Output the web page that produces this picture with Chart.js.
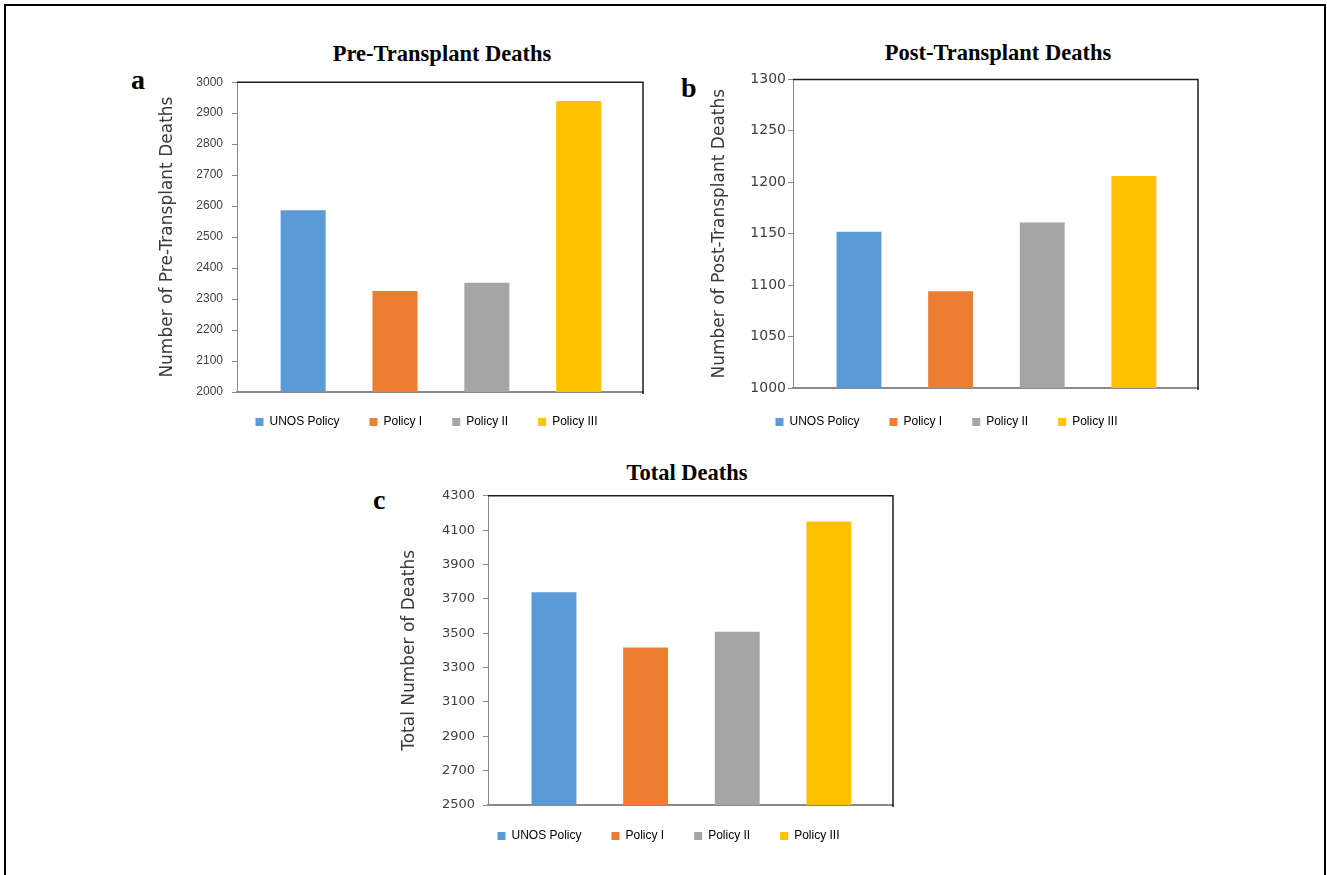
<!DOCTYPE html>
<html>
<head>
<meta charset="utf-8">
<script src="https://cdn.jsdelivr.net/npm/chart.js@4.4.1/dist/chart.umd.min.js"></script>
<style>
html, body { margin: 0; padding: 0; background: #fff; }
#page { position: relative; width: 1327px; height: 875px; overflow: hidden; background: #fff; }
#frame { position: absolute; left: 4px; top: 4px; width: 1318px; height: 900px;
  border-top: 2px solid #000; border-left: 2px solid #000; border-right: 2px solid #000; }
canvas { position: absolute; }
.ttl { position: absolute; width: 400px; text-align: center; white-space: nowrap;
  font-family: "Liberation Serif", "Times New Roman", serif; font-weight: bold;
  font-size: 22.5px; line-height: 22.5px; color: #000; }
.pnl { position: absolute; font-family: "Liberation Serif", "Times New Roman", serif;
  font-weight: bold; font-size: 28px; line-height: 28px; color: #000; }
</style>
</head>
<body>
<div id="page">
  <div id="frame"></div>
  <div class="ttl" style="left:242px; top:43px;">Pre-Transplant Deaths</div>
  <div class="ttl" style="left:798px; top:42px;">Post-Transplant Deaths</div>
  <div class="ttl" style="left:487px; top:462px;">Total Deaths</div>
  <div class="pnl" style="left:131px; top:66px;">a</div>
  <div class="pnl" style="left:681px; top:74px;">b</div>
  <div class="pnl" style="left:373px; top:486px;">c</div>
  <canvas id="chartA" width="553" height="378" style="left:150px; top:66px;"></canvas>
  <canvas id="chartB" width="507" height="371" style="left:693px; top:69px;"></canvas>
  <canvas id="chartC" width="557" height="377" style="left:390px; top:480px;"></canvas>
</div>
<script>
// ---- data ----
const categories = ['UNOS Policy', 'Policy I', 'Policy II', 'Policy III'];
const barColors = ['#5B9BD5', '#ED7D31', '#A5A5A5', '#FFC000'];
const preDeaths = [2587, 2326, 2353, 2939];
const postDeaths = [1152, 1094, 1161, 1206];
const totalDeaths = [3739, 3417, 3508, 4150];
const preTicks = [2000, 2100, 2200, 2300, 2400, 2500, 2600, 2700, 2800, 2900, 3000];
const postTicks = [1000, 1050, 1100, 1150, 1200, 1250, 1300];
const totalTicks = [2500, 2700, 2900, 3100, 3300, 3500, 3700, 3900, 4100, 4300];

// ---- plugins ----
const frameBox = {
  id: 'frameBox',
  afterDatasetsDraw(chart) {
    const { ctx, chartArea: { left, right, top, bottom } } = chart;
    ctx.save();
    ctx.strokeStyle = '#1e1e1e';
    ctx.lineWidth = 1.5;
    ctx.beginPath();
    ctx.moveTo(left, top);
    ctx.lineTo(right, top);
    ctx.lineTo(right, bottom + 2);
    ctx.stroke();
    ctx.restore();
  }
};
const legendNudge = {
  id: 'legendNudge',
  afterLayout(chart, args, opts) {
    const l = chart.legend;
    if (l && opts.up) { l.top -= opts.up; l.bottom -= opts.up; }
  }
};

function makeChart(id, values, tickVals, yTitle, L) {
  return new Chart(document.getElementById(id), {
    type: 'bar',
    data: {
      datasets: [{
        data: categories.map((c, i) => ({ x: i, y: values[i] })),
        backgroundColor: barColors,
        borderWidth: 0,
        barPercentage: 0.49,
        categoryPercentage: 1
      }]
    },
    options: {
      responsive: false,
      animation: false,
      devicePixelRatio: 1,
      layout: { padding: { top: 0, left: 0, right: 0, bottom: 0 } },
      scales: {
        x: {
          type: 'linear', bounds: 'data', offset: false, min: -0.72, max: 3.7,
          afterBuildTicks: s => { s.ticks = categories.map((c, i) => ({ value: i })); },
          grid: { display: false, offset: false },
          border: { display: true, color: '#8a8a8a', width: 2 },
          ticks: { display: false },
          afterFit: s => { s.height = 0; }
        },
        y: {
          type: 'linear', position: 'left',
          min: tickVals[0], max: tickVals[tickVals.length - 1],
          afterBuildTicks: s => { s.ticks = tickVals.map(v => ({ value: v })); },
          grid: { display: true, drawOnChartArea: false, drawTicks: true, tickLength: 5, color: '#8a8a8a' },
          border: { display: true, color: '#8a8a8a', width: 1 },
          ticks: { padding: L.tickPad, font: L.tickFont, color: '#404040', callback: v => String(v) },
          title: {
            display: true, text: yTitle, color: '#3a3a3a',
            font: { family: 'DejaVu Sans', size: 17 },
            padding: { top: L.titlePad, bottom: 0 }
          },
          afterFit: s => { s.width = L.yWidth; }
        },
        y2: {
          type: 'linear', position: 'right', display: true,
          grid: { display: false, drawTicks: false },
          border: { display: false },
          ticks: { display: false },
          afterFit: s => { s.width = L.rightW; }
        }
      },
      plugins: {
        tooltip: { enabled: false },
        legendNudge: { up: L.nudge },
        legend: {
          position: 'bottom', align: 'center',
          labels: {
            boxWidth: 8, boxHeight: 8, padding: 30, color: '#404040',
            font: { family: 'Liberation Sans', size: 12 },
            generateLabels: () => categories.map((c, i) => ({
              text: c, fillStyle: barColors[i], strokeStyle: barColors[i],
              lineWidth: 0, hidden: false, index: i, datasetIndex: 0
            }))
          }
        }
      }
    },
    plugins: [frameBox, legendNudge]
  });
}

makeChart('chartA', preDeaths, preTicks, 'Number of Pre-Transplant Deaths', {
  tickPad: 9, tickFont: { family: 'Liberation Sans', size: 12 },
  titlePad: 7.8, yWidth: 87, rightW: 60, nudge: 6
});
makeChart('chartB', postDeaths, postTicks, 'Number of Post-Transplant Deaths', {
  tickPad: 2, tickFont: { family: 'DejaVu Sans', size: 14 },
  titlePad: 16.8, yWidth: 100, rightW: 2, nudge: 2
});
makeChart('chartC', totalDeaths, totalTicks, 'Total Number of Deaths', {
  tickPad: 8, tickFont: { family: 'DejaVu Sans', size: 13 },
  titlePad: 9.8, yWidth: 98, rightW: 54, nudge: 5
});
</script>
</body>
</html>
